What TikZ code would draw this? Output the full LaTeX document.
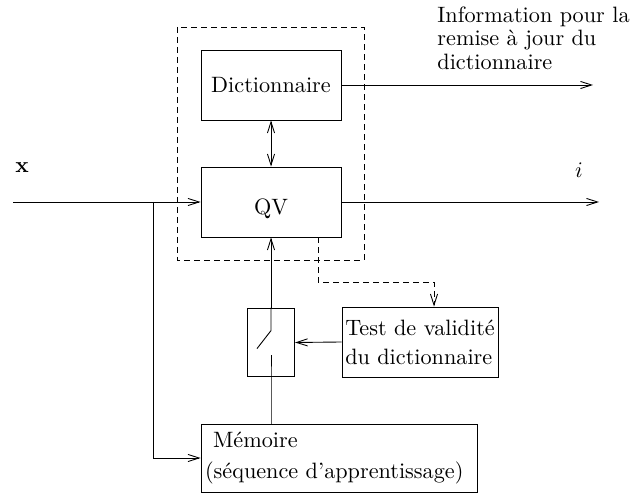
\documentclass[tikz,border=0pt]{standalone}
\usepackage{tikz}
\usetikzlibrary{arrows.meta}

\tikzset{
  bloc/.style={draw, minimum width=#1, minimum height=31.5pt, inner sep=0pt},
  pointille/.style={dash pattern=on 2.5pt off 2pt},
}

\begin{document}
\begin{tikzpicture}[x=0.45pt, y=-0.45pt, >={Straight Barb[length=5pt,width=3.2pt]}]
  \useasboundingbox (0,0) rectangle (634,496);

  \node[bloc=63pt] (dico) at (271,85) {Dictionnaire};
  \node[bloc=63pt, text height=11pt, text depth=0pt] (qv) at (271,202) {QV};
  \node[bloc=70.2pt, align=left] (test) at (420,342) {Test de validité\\[1pt]du dictionnaire};
  \node[bloc=21.2pt, minimum height=31pt] (inter) at (271,342.5) {};
  \node[bloc=124.2pt, minimum height=30.6pt, inner xsep=1.8pt, text width=120.6pt, align=left] (mem) at (339,458) {\hspace{3.6pt}Mémoire\\[2pt](séquence d'apprentissage)};

  \draw[pointille] (177,27) rectangle (364,260);

  \node (xlab) at (22,168) {$\mathbf{x}$};
  \node (ilab) at (579,170) {$i$};
  \node[align=left, anchor=north west, inner sep=0pt, font=\fontsize{10}{10.6}\selectfont] (info) at (437,6) {Information pour la\\remise à jour du\\dictionnaire};

  \coordinate (xin) at (13,202);
  \coordinate (branche) at (153,202);
  \coordinate (infofin) at (593,85);
  \coordinate (ifin) at (599,202);
  \coordinate (coude) at (318,282);
  \coordinate (coudetest) at (434,282);

  \draw[->] (xin) -- (qv.west);
  \draw[->] (branche) |- (mem.west);
  \draw[<->] (dico) -- (qv);
  \draw[->] (dico.east) -- (infofin);
  \draw[->] (qv.east) -- (ifin);

  \draw[pointille, ->] (qv.south -| coude) -- (coude) -- (coudetest) -- (coudetest |- test.north);
  \draw[->] (test.west) -- (inter.east);

  \draw (mem.north -| inter) -- (inter.south) -- ++(0,-22);
  \draw (inter.north) -- ++(0,23) -- ++(-14,18);
  \draw[->] (inter.north) -- (qv.south);
\end{tikzpicture}
\end{document}
